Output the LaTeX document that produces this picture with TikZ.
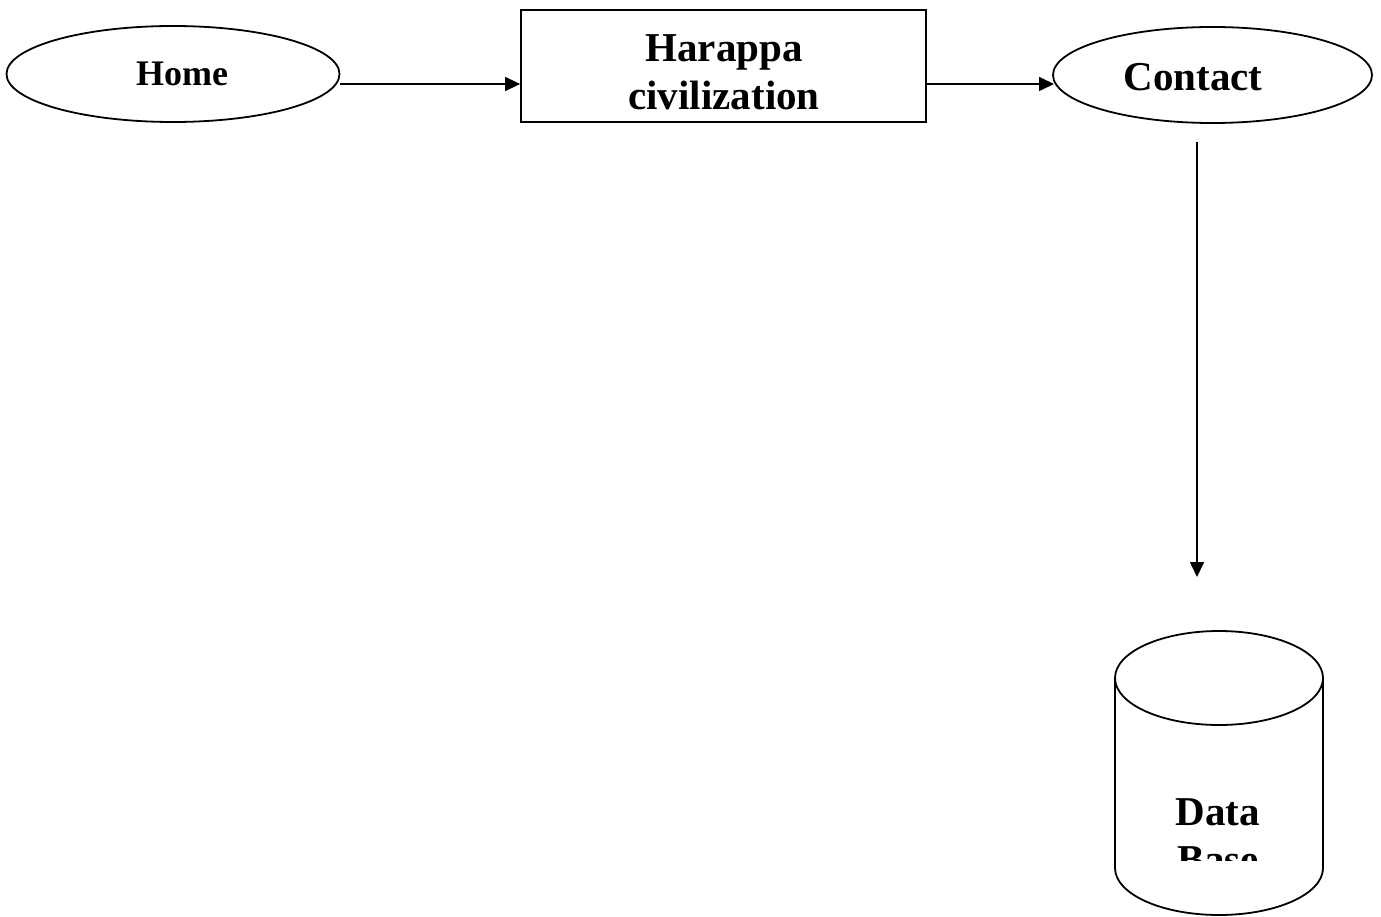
\documentclass[tikz,border=0pt]{standalone}
\usepackage{fontspec}
\setmainfont{Liberation Serif}
\usetikzlibrary{shapes.geometric,arrows.meta}
\begin{document}
\begin{tikzpicture}[x=1pt,y=-1pt,
  shapeline/.style={draw=black,line width=1.8pt},
  arr/.style={line width=1.6pt,-{Triangle[length=15pt,width=14pt]}},
  bigtxt/.style={font=\fontsize{41}{48}\selectfont\bfseries,inner sep=0pt},
  smalltxt/.style={font=\fontsize{36}{42}\selectfont\bfseries,inner sep=0pt}]
\useasboundingbox[fill=white] (0,0) rectangle (1381,917);
% nodes
\node[shapeline,ellipse,minimum width=333pt,minimum height=96pt,inner sep=0pt] (home) at (173,74) {};
\node[smalltxt,anchor=base] (hometxt) at (182,86) {Home};
\node[shapeline,rectangle,minimum width=405pt,minimum height=112pt,inner sep=0pt] (box) at (723.5,66) {};
\node[bigtxt,anchor=base] (t1) at (724,62) {Harappa};
\node[bigtxt,anchor=base] (t2) at (724,110) {civilization};
\node[shapeline,ellipse,minimum width=319pt,minimum height=96pt,inner sep=0pt] (contact) at (1212.5,75) {};
\node[bigtxt,anchor=base] (contacttxt) at (1193,91) {Contact};
% cylinder
\draw[shapeline] (1219,678) ellipse [x radius=104, y radius=47];
\draw[shapeline] (1115,678) -- (1115,868) arc[start angle=180,end angle=0,x radius=104,y radius=47] -- (1323,678);
\begin{scope}
\clip (1115,700) rectangle (1323,860);
\node[bigtxt,anchor=base] (data) at (1218,825) {Data};
\node[bigtxt,anchor=base] (base) at (1218,873) {Base};
\end{scope}
% connectors
\draw[arr] ([yshift=-10pt]home.east) -- ([yshift=-10pt]home.east -| box.west);
\draw[arr] (box.east |- 0,84) -- (1054,84);
\coordinate (vs) at (1197,142);
\coordinate (ve) at (1197,577);
\draw[arr] (vs) -- (ve);
\end{tikzpicture}
\end{document}
